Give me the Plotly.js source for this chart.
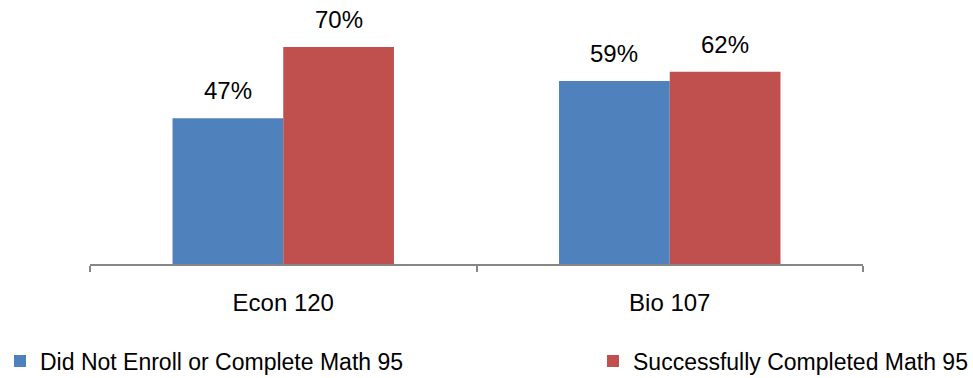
<!DOCTYPE html>
<html>
<head>
<meta charset="utf-8">
<script src="https://cdn.plot.ly/plotly-3.0.1.min.js"></script>
<style>
  html, body { margin: 0; padding: 0; background: #fff; }
  #chart { width: 973px; height: 378px; }
</style>
</head>
<body>
<div id="chart"></div>
<script>
// Course success rates by Math 95 status
const courses = ['Econ 120', 'Bio 107'];
const seriesNames = ['Did Not Enroll or Complete Math 95', 'Successfully Completed Math 95'];
const didNotComplete = [0.47, 0.59];
const completed = [0.70, 0.62];

const colors = ['#4F81BD', '#C0504D'];
const FONT = 'Liberation Sans, Arial, sans-serif';

const series = [didNotComplete, completed];

const traces = series.map((vals, i) => ({
  type: 'bar',
  name: seriesNames[i],
  x: courses,
  y: vals,
  marker: { color: colors[i], line: { width: 0 } },
  legend: i === 0 ? 'legend' : 'legend2',
  hoverinfo: 'skip'
}));

// value labels above each bar (grouped bars sit half a bar width left/right of the category)
const halfBar = 55.5;
const annotations = [];
series.forEach((vals, i) => {
  vals.forEach((v, j) => {
    annotations.push({
      xref: 'x', yref: 'y',
      x: courses[j], y: v,
      xshift: i === 0 ? -halfBar : halfBar,
      yshift: 12,
      yanchor: 'bottom',
      showarrow: false,
      text: Math.round(v * 100) + '%',
      font: { family: FONT, size: 24, color: '#000' }
    });
  });
});

const layout = {
  width: 973,
  height: 378,
  margin: { l: 90, r: 110, t: 16, b: 114 },
  paper_bgcolor: '#fff',
  plot_bgcolor: '#fff',
  barmode: 'group',
  bargap: 0.427,
  bargroupgap: 0,
  font: { family: FONT, size: 24, color: '#000' },
  xaxis: {
    type: 'category',
    showline: true,
    linecolor: '#868686',
    linewidth: 2,
    ticks: 'outside',
    tickson: 'boundaries',
    ticklen: 6,
    tickwidth: 2,
    tickcolor: '#868686',
    showgrid: false,
    zeroline: false,
    tickfont: { family: FONT, size: 24, color: '#000' },
    ticklabelstandoff: 16
  },
  yaxis: {
    range: [0, 0.8],
    visible: false,
    showgrid: false,
    zeroline: false
  },
  showlegend: true,
  legend: {
    xref: 'container', yref: 'container',
    x: 0, xanchor: 'left',
    y: 0.045, yanchor: 'middle',
    orientation: 'h',
    font: { family: FONT, size: 23, color: '#000' },
    bgcolor: 'rgba(0,0,0,0)'
  },
  legend2: {
    xref: 'container', yref: 'container',
    x: 1, xanchor: 'right',
    y: 0.045, yanchor: 'middle',
    orientation: 'h',
    font: { family: FONT, size: 23, color: '#000' },
    bgcolor: 'rgba(0,0,0,0)'
  },
  annotations: annotations
};

Plotly.newPlot('chart', traces, layout, { displayModeBar: false, staticPlot: true });
</script>
</body>
</html>
